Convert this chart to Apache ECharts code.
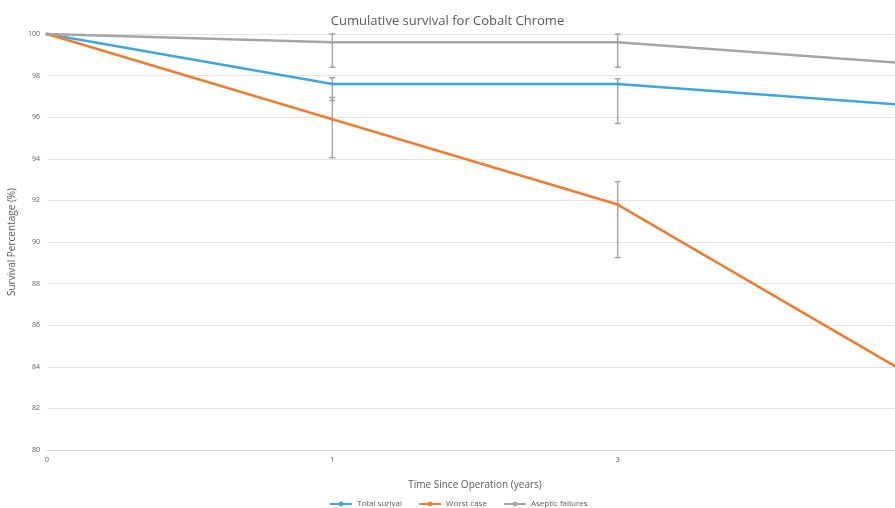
<!DOCTYPE html>
<html>
<head>
<meta charset="utf-8">
<script src="https://cdn.jsdelivr.net/npm/echarts@6/dist/echarts.min.js"></script>
<style>
  html, body { margin: 0; padding: 0; background: #fff; }
  #chart { width: 895px; height: 508px; }
</style>
</head>
<body>
<div id="chart"></div>
<script>
// Years since operation
const years = ['0', '1', '3', '5'];
const yTicks = [80, 82, 84, 86, 88, 90, 92, 94, 96, 98, 100];

// Cumulative survival (%)
const totalSurvival = [100, 97.6, 97.6, 96.6];
const worstCase = [100, 95.9, 91.8, 83.8];
const asepticFailures = [100, 99.6, 99.6, 98.6];

// Confidence intervals: [year index, lower, upper]
const totalCI = [[1, 96.8, 97.9], [2, 95.7, 97.85]];
const worstCI = [[1, 94.05, 96.95], [2, 89.25, 92.9]];
const asepticCI = [[1, 98.4, 100], [2, 98.4, 100]];

const BLUE = '#3ea6db';
const ORANGE = '#ee7d31';
const GRAY = '#a5a5a5';
const FONT = '"Open Sans", "Liberation Sans", sans-serif';

function errorBars(data) {
  return {
    type: 'custom',
    data: data,
    z: 1,
    silent: true,
    encode: { x: 0, y: [1, 2] },
    renderItem: function (params, api) {
      const lo = api.coord([api.value(0), api.value(1)]);
      const hi = api.coord([api.value(0), api.value(2)]);
      const half = 3;
      const style = { stroke: '#a6a6a6', lineWidth: 1.5 };
      return {
        type: 'group',
        children: [
          { type: 'line', shape: { x1: lo[0], y1: lo[1], x2: hi[0], y2: hi[1] }, style: style },
          { type: 'line', shape: { x1: lo[0] - half, y1: lo[1], x2: lo[0] + half, y2: lo[1] }, style: style },
          { type: 'line', shape: { x1: hi[0] - half, y1: hi[1], x2: hi[0] + half, y2: hi[1] }, style: style }
        ]
      };
    }
  };
}

function lineSeries(name, values, color) {
  return {
    name: name,
    type: 'line',
    data: values,
    z: 3,
    symbol: 'circle',
    symbolSize: 3,
    showSymbol: true,
    itemStyle: { color: color },
    lineStyle: { color: color, width: 2.5 },
    emphasis: { disabled: true }
  };
}

const chart = echarts.init(document.getElementById('chart'), null, { renderer: 'canvas' });
chart.setOption({
  animation: false,
  backgroundColor: '#ffffff',
  title: {
    text: 'Cumulative survival for Cobalt Chrome',
    left: 'center',
    top: 10,
    textStyle: { fontFamily: FONT, fontSize: 13, fontWeight: 'normal', color: '#595959' }
  },
  legend: {
    left: 324,
    top: 495,
    itemWidth: 22,
    itemHeight: 6,
    itemGap: 16,
    textStyle: { fontFamily: FONT, fontSize: 8, color: '#595959' },
    data: ['Total surival', 'Worst case', 'Aseptic failures']
  },
  grid: { left: 47, top: 34, width: 856, bottom: 58, outerBoundsMode: 'none', containLabel: false },
  xAxis: {
    type: 'category',
    data: years,
    boundaryGap: false,
    name: 'Time Since Operation (years)',
    nameLocation: 'middle',
    nameGap: 30,
    nameTextStyle: { fontFamily: FONT, fontSize: 10, color: '#595959' },
    axisLine: { lineStyle: { color: '#d9d9d9' } },
    axisTick: { show: false },
    axisLabel: { fontFamily: FONT, fontSize: 7, color: '#595959', margin: 6 }
  },
  yAxis: {
    type: 'value',
    min: yTicks[0],
    max: yTicks[yTicks.length - 1],
    interval: 2,
    name: 'Survival Percentage (%)',
    nameLocation: 'middle',
    nameGap: 16,
    nameTextStyle: { fontFamily: FONT, fontSize: 10, color: '#595959' },
    axisLine: { show: false },
    axisTick: { show: false },
    splitLine: { lineStyle: { color: '#e3e3e3', width: 1 } },
    axisLabel: { fontFamily: FONT, fontSize: 7, color: '#595959', margin: 7 }
  },
  series: [
    errorBars(asepticCI),
    errorBars(totalCI),
    errorBars(worstCI),
    lineSeries('Total surival', totalSurvival, BLUE),
    lineSeries('Worst case', worstCase, ORANGE),
    lineSeries('Aseptic failures', asepticFailures, GRAY)
  ]
});
</script>
</body>
</html>
